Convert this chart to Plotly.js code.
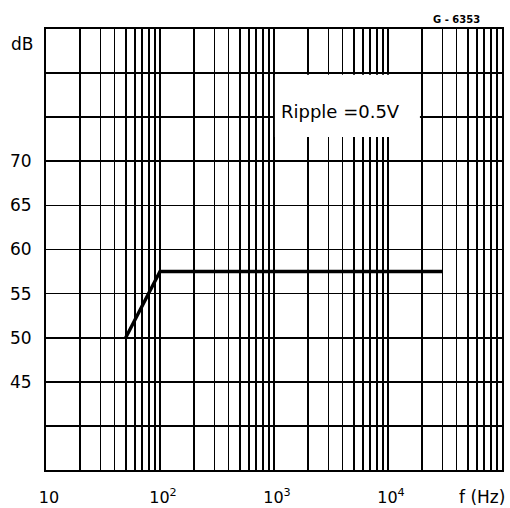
<!DOCTYPE html>
<html>
<head>
<meta charset="utf-8">
<script src="https://cdn.plot.ly/plotly-3.0.1.min.js"></script>
<style>html,body{margin:0;padding:0;background:#fff;}#chart{width:510px;height:508px;}</style>
</head>
<body>
<div id="chart"></div>
<script>
// Data
const freqHz = [50, 100, 30000];
const rejectionDb = [50, 57.5, 57.5];

// Axis grid / labels
const decades = [10, 100, 1000, 10000];
const multipliers = [1, 2, 3, 4, 5, 6, 7, 8, 9];
const decadeLabels = ["10", "10<sup>2</sup>", "10<sup>3</sup>", "10<sup>4</sup>"];
const yGridVals = [35, 40, 45, 50, 55, 60, 65, 70, 75, 80, 85];
const yLabels = ["", "", "45", "50", "55", "60", "65", "70", "", "", ""];
const annotationText = "Ripple =0.5V";
const figCode = "G - 6353";

const xTickVals = [];
const xTickText = [];
decades.forEach((d, i) => {
  multipliers.forEach(m => {
    xTickVals.push(d * m);
    xTickText.push(m === 1 ? decadeLabels[i] : "");
  });
});
xTickVals.push(100000);
xTickText.push("");

const font = "DejaVu Sans, sans-serif";

const trace = {
  x: freqHz, y: rejectionDb, type: "scatter", mode: "lines",
  line: {color: "#000", width: 3.4},
  hoverinfo: "skip"
};

const layout = {
  width: 510, height: 508,
  margin: {l: 46, r: 8, t: 29, b: 38},
  paper_bgcolor: "#fff", plot_bgcolor: "#fff",
  showlegend: false,
  font: {family: font, color: "#000", size: 17},
  xaxis: {
    type: "log", range: [1, 5],
    tickmode: "array", tickvals: xTickVals, ticktext: xTickText,
    showgrid: true, gridcolor: "#000", gridwidth: 1.7,
    showline: true, linecolor: "#000", linewidth: 2, mirror: true,
    ticks: "", zeroline: false,
    ticklabelstandoff: 12,
    ticklabelshift: 3,
    tickfont: {family: font, size: 16, color: "#000"}
  },
  yaxis: {
    range: [35, 85],
    tickmode: "array", tickvals: yGridVals, ticktext: yLabels,
    showgrid: true, gridcolor: "#000", gridwidth: 1.7,
    showline: true, linecolor: "#000", linewidth: 2, mirror: true,
    ticks: "", zeroline: false,
    ticklabelstandoff: 9,
    tickfont: {family: font, size: 17, color: "#000"}
  },
  shapes: [{
    type: "rect", xref: "paper", yref: "paper", layer: "above",
    x0: 0.502, x1: 0.82, y0: 0.755, y1: 0.896,
    fillcolor: "#fff", line: {width: 0}
  }],
  annotations: [
    {text: annotationText, xref: "paper", yref: "paper", x: (340 - 46) / 456, y: (470 - 112) / 441,
     xanchor: "center", yanchor: "middle", showarrow: false, font: {family: font, size: 18, color: "#000"}},
    {text: "dB", xref: "paper", yref: "paper", x: (35 - 46) / 456, y: (470 - 44) / 441,
     xanchor: "right", yanchor: "middle", showarrow: false, font: {family: font, size: 17, color: "#000"}},
    {text: "<b>" + figCode + "</b>", xref: "paper", yref: "paper", x: (456 - 46) / 456, y: (470 - 19) / 441,
     xanchor: "center", yanchor: "middle", showarrow: false, font: {family: font, size: 10, color: "#000"}},
    {text: "f (Hz)", xref: "paper", yref: "paper", x: (507 - 46) / 456, y: (470 - 497) / 441,
     xanchor: "right", yanchor: "middle", showarrow: false, font: {family: font, size: 17, color: "#000"}}
  ]
};

Plotly.newPlot("chart", [trace], layout, {staticPlot: true, displayModeBar: false});
</script>
</body>
</html>
